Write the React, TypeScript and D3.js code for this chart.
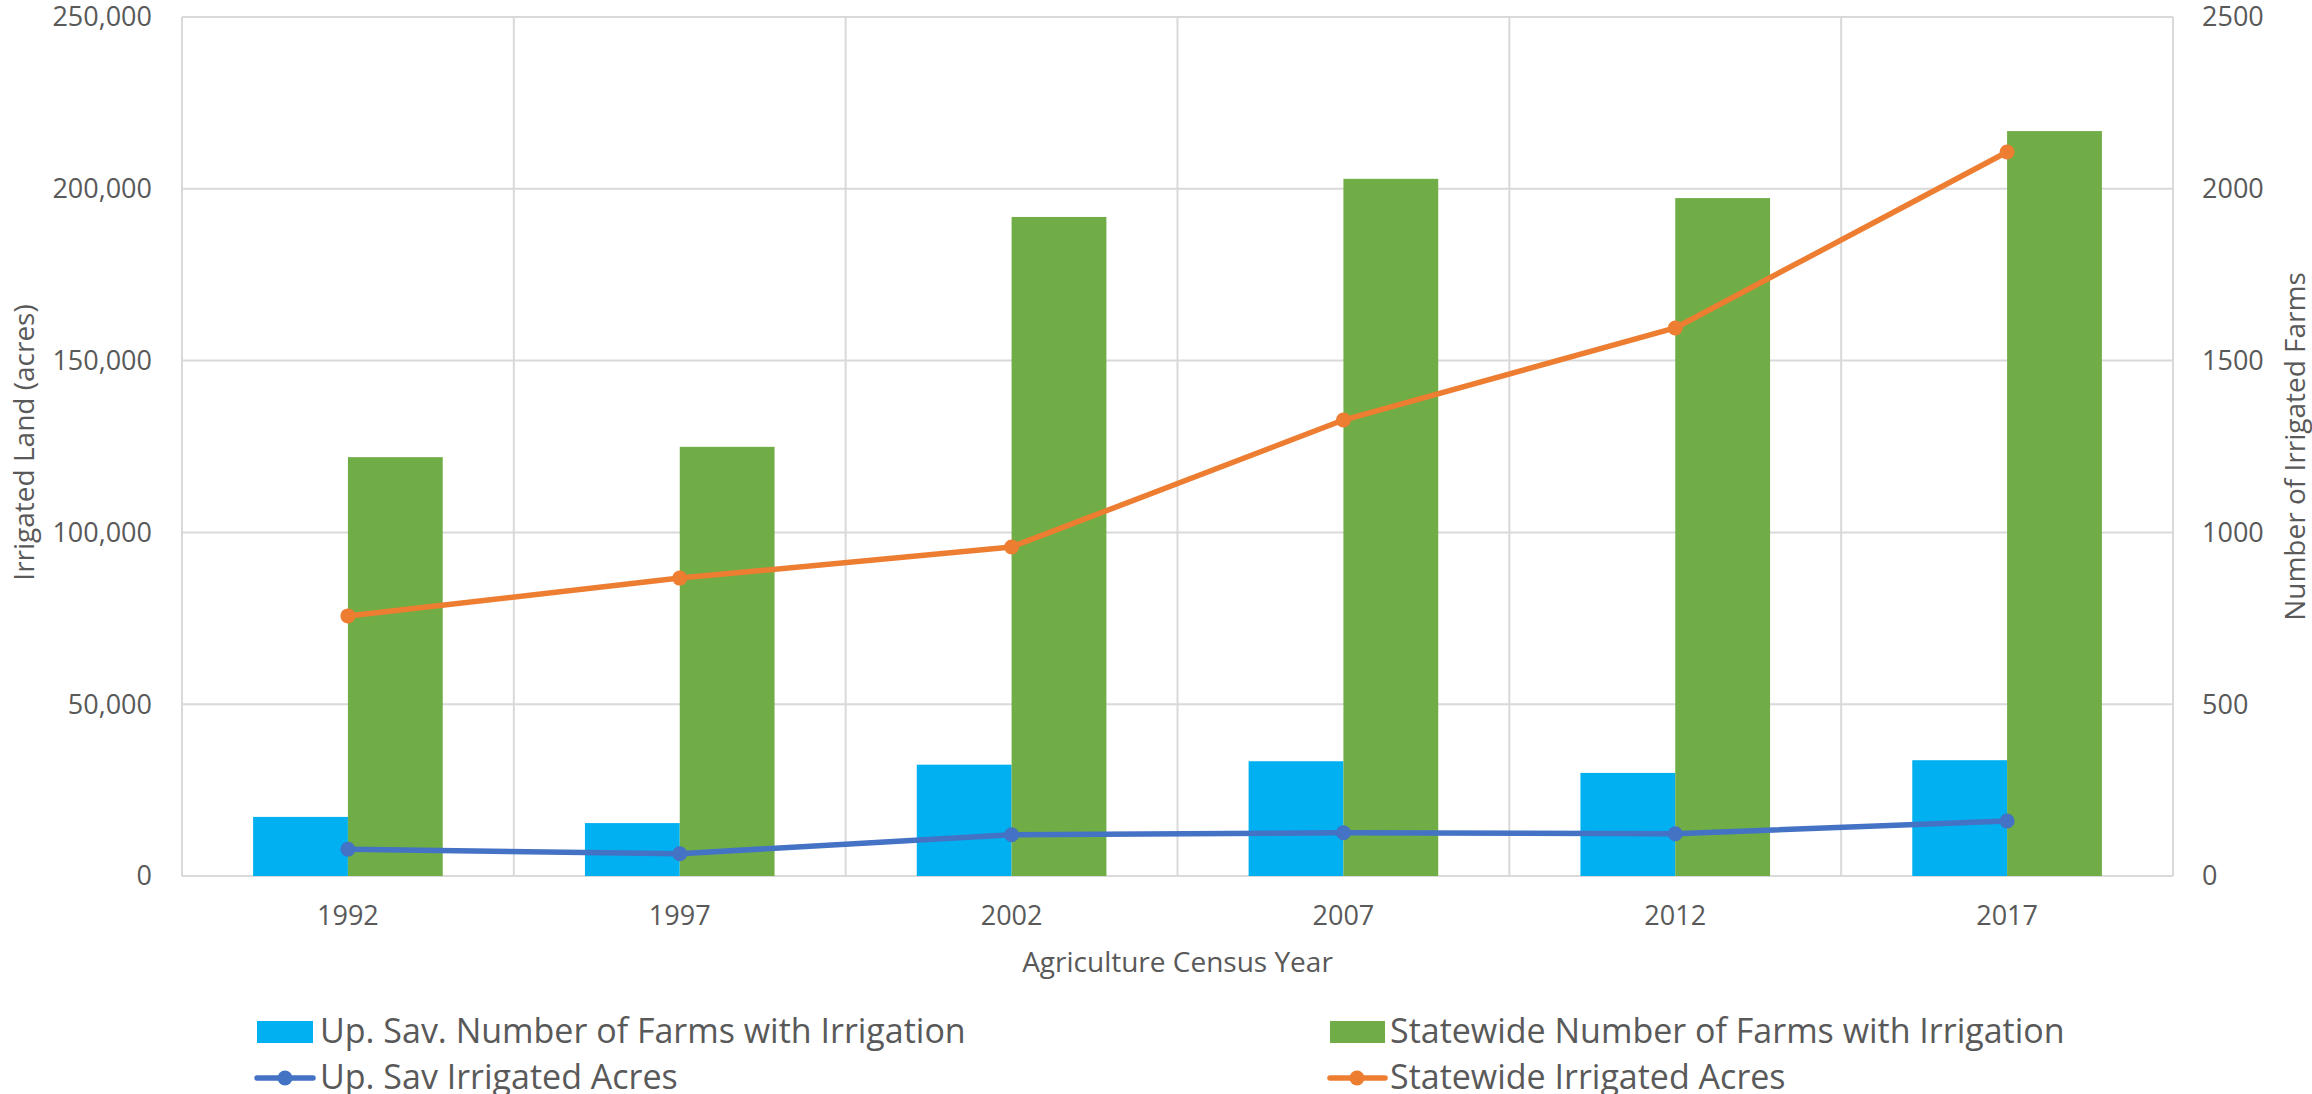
import React from "react";
import * as d3 from "d3";

const years = ["1992", "1997", "2002", "2007", "2012", "2017"];
const upSavFarms = [172, 154, 324, 334, 300, 337];
const statewideFarms = [1219, 1249, 1918, 2029, 1973, 2168];
const upSavAcres = [7770, 6490, 12020, 12600, 12310, 16000];
const statewideAcres = [75700, 86700, 95750, 132700, 159500, 210700];
const leftTicks = [0, 50000, 100000, 150000, 200000, 250000];
const rightTicks = [0, 500, 1000, 1500, 2000, 2500];
const barSeries = ["upSav", "statewide"];

const W = 2312;
const H = 1094;
const L = 182;
const R = 2173;
const T = 17;
const B = 876;
const FONT = "'Open Sans', sans-serif";
const TXT = "#595959";
const GRID = "#D9D9D9";
const C_BLUEBAR = "#00B0F0";
const C_GREEN = "#70AD47";
const C_ORANGE = "#ED7D31";
const C_BLUELINE = "#4472C4";

export default function App() {
  const x0 = d3.scaleBand<string>().domain(years).range([L, R]).paddingInner(0).paddingOuter(0);
  const bw = x0.bandwidth();
  const x1 = d3.scaleBand<string>().domain(barSeries).range([0, bw]).paddingInner(0).paddingOuter(0.75);
  const yL = d3.scaleLinear().domain([0, 250000]).range([B, T]);
  const yR = d3.scaleLinear().domain([0, 2500]).range([B, T]);
  const cx = (y: string) => (x0(y) as number) + bw / 2;
  const fmt = d3.format(",");

  const lineGen = (vals: number[]) =>
    d3.line<number>().x((_, i) => cx(years[i])).y((v) => yL(v))(vals) as string;

  const boundaries = [...years.map((y) => x0(y) as number), R];

  return (
    <svg
      width={W}
      height={H}
      style={{ position: "absolute", left: 0, top: 0, display: "block", background: "#fff" }}
      fontFamily={FONT}
    >
      {leftTicks.map((t) => (
        <line key={"h" + t} x1={L} x2={R} y1={yL(t)} y2={yL(t)} stroke={GRID} strokeWidth={2} />
      ))}
      {boundaries.map((bx, i) => (
        <line key={"v" + i} x1={bx} x2={bx} y1={T} y2={B} stroke={GRID} strokeWidth={2} />
      ))}

      {years.map((y, i) => (
        <g key={"b" + y}>
          <rect
            x={(x0(y) as number) + (x1("upSav") as number)}
            y={yR(upSavFarms[i])}
            width={x1.bandwidth()}
            height={B - yR(upSavFarms[i])}
            fill={C_BLUEBAR}
          />
          <rect
            x={(x0(y) as number) + (x1("statewide") as number)}
            y={yR(statewideFarms[i])}
            width={x1.bandwidth()}
            height={B - yR(statewideFarms[i])}
            fill={C_GREEN}
          />
        </g>
      ))}

      <path d={lineGen(upSavAcres)} fill="none" stroke={C_BLUELINE} strokeWidth={5.5} strokeLinejoin="round" strokeLinecap="round" />
      {upSavAcres.map((v, i) => (
        <circle key={"bl" + i} cx={cx(years[i])} cy={yL(v)} r={7.5} fill={C_BLUELINE} />
      ))}
      <path d={lineGen(statewideAcres)} fill="none" stroke={C_ORANGE} strokeWidth={5.5} strokeLinejoin="round" strokeLinecap="round" />
      {statewideAcres.map((v, i) => (
        <circle key={"ol" + i} cx={cx(years[i])} cy={yL(v)} r={7.5} fill={C_ORANGE} />
      ))}

      {leftTicks.map((t) => (
        <text key={"lt" + t} x={152} y={yL(t)} dy="0.35em" textAnchor="end" fontSize={27} fill={TXT}>
          {fmt(t)}
        </text>
      ))}
      {rightTicks.map((t) => (
        <text key={"rt" + t} x={2202} y={yR(t)} dy="0.35em" textAnchor="start" fontSize={27} fill={TXT}>
          {t}
        </text>
      ))}
      {years.map((y) => (
        <text key={"xt" + y} x={cx(y)} y={925} textAnchor="middle" fontSize={27} fill={TXT}>
          {y}
        </text>
      ))}

      <text x={(L + R) / 2} y={972} textAnchor="middle" fontSize={28} fill={TXT}>
        Agriculture Census Year
      </text>
      <text transform={`translate(34, ${(T + B) / 2 - 4}) rotate(-90)`} textAnchor="middle" fontSize={28} fill={TXT}>
        Irrigated Land (acres)
      </text>
      <text transform={`translate(2305, ${(T + B) / 2}) rotate(-90)`} textAnchor="middle" fontSize={28} fill={TXT}>
        Number of Irrigated Farms
      </text>

      <g>
        <rect x={257} y={1021} width={56} height={22} fill={C_BLUEBAR} />
        <text x={320} y={1043} fontSize={34} fill={TXT}>Up. Sav. Number of Farms with Irrigation</text>
        <line x1={257} x2={313} y1={1078} y2={1078} stroke={C_BLUELINE} strokeWidth={5.5} strokeLinecap="round" />
        <circle cx={285} cy={1078} r={7.5} fill={C_BLUELINE} />
        <text x={320} y={1089} fontSize={34} fill={TXT}>Up. Sav Irrigated Acres</text>

        <rect x={1330} y={1021} width={55} height={22} fill={C_GREEN} />
        <text x={1390} y={1043} fontSize={34} fill={TXT}>Statewide Number of Farms with Irrigation</text>
        <line x1={1330} x2={1385} y1={1078} y2={1078} stroke={C_ORANGE} strokeWidth={5.5} strokeLinecap="round" />
        <circle cx={1357} cy={1078} r={7.5} fill={C_ORANGE} />
        <text x={1390} y={1089} fontSize={34} fill={TXT}>Statewide Irrigated Acres</text>
      </g>
    </svg>
  );
}
